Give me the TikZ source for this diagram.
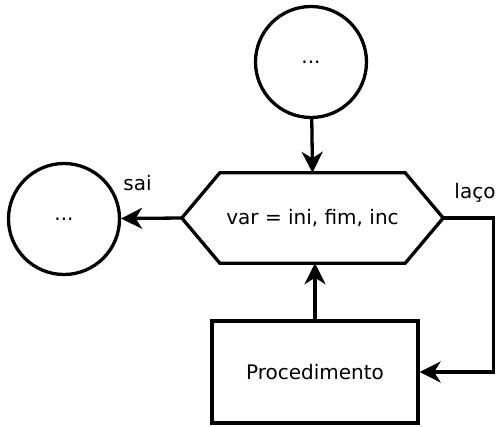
\documentclass[tikz,border=0pt]{standalone}
\usepackage{fontspec}
\setmainfont{DejaVu Sans}
\usetikzlibrary{arrows.meta,calc}
\begin{document}
\begin{tikzpicture}[x=1pt,y=-1pt,
  every node/.style={font=\fontsize{20}{24}\selectfont},
  lw/.style={line width=3.3pt},
  term/.style={lw,draw,circle,minimum size=111pt,inner sep=0pt},
  procbox/.style={lw,draw,rectangle,minimum width=206pt,minimum height=102pt,inner sep=0pt},
  conn/.style={lw,-{Stealth[length=21pt,width=21pt,inset=6.5pt]}},
  lbl/.style={inner sep=0pt}]
\useasboundingbox (0,0) rectangle (498,426);
\node[term] (top) at (311,62) {...};
\node[term] (exit) at (64,219) {...};
\node[minimum width=261pt,minimum height=90pt,inner sep=0pt] (hex) at (312.5,218) {var = ini, fim, inc};
\draw[lw,line join=miter] (hex.west) -- ($(hex.north west)+(38,0)$) -- ($(hex.north east)+(-38,0)$)
  -- (hex.east) -- ($(hex.south east)+(-38,0)$) -- ($(hex.south west)+(38,0)$) -- cycle;
\node[procbox] (proc) at (315,372) {Procedimento};
\draw[conn] (top) -- (hex.north);
\draw[conn] (hex.west) -- (exit);
\draw[conn] (proc.north) -- (proc.north |- hex.south);
\coordinate (loopc) at ($(hex.east)+(50,0)$);
\draw[conn] (hex.east) -- (loopc) |- (proc.east);
\node[lbl] (sai) at (137.5,183) {sai};
\node[lbl] (laco) at (475,193) {laço};
\end{tikzpicture}
\end{document}
